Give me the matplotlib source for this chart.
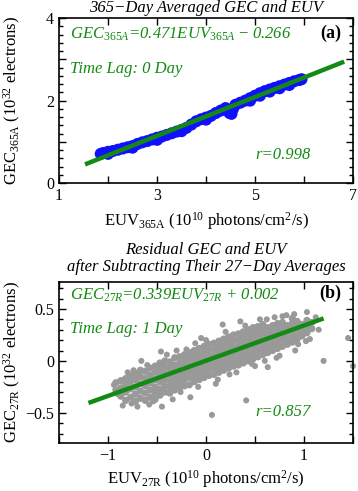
import matplotlib
matplotlib.use("Agg")
import matplotlib.pyplot as plt
from matplotlib.ticker import MultipleLocator, FuncFormatter

plt.rcParams["font.family"] = ["Liberation Serif", "DejaVu Serif"]
plt.rcParams["mathtext.fontset"] = "custom"
plt.rcParams["mathtext.rm"] = "Liberation Serif"
plt.rcParams["mathtext.it"] = "Liberation Serif:italic"
plt.rcParams["mathtext.bf"] = "Liberation Serif:bold"

# ---------------------------
# (a) 365-day averaged GEC vs EUV
# ---------------------------
euv_365a = [1.85, 1.9, 2.0, 2.1, 2.2, 2.3, 2.4, 2.5, 2.6, 2.7, 2.8, 2.9, 3.0,
            3.1, 3.2, 3.3, 3.4, 3.5, 3.6, 3.7, 3.8, 3.9, 4.0, 4.1, 4.2, 4.3,
            4.4, 4.48, 4.52, 4.55, 4.6, 4.7, 4.8, 4.9, 5.0, 5.1, 5.2, 5.3,
            5.4, 5.5, 5.6, 5.7, 5.8, 5.9, 5.95,
            2.0, 2.5, 3.0, 3.5, 4.0, 4.9, 5.1, 5.3, 5.5, 5.7]
gec_365a = [0.71, 0.73, 0.76, 0.78, 0.81, 0.84, 0.87, 0.90, 0.95, 0.99, 1.02,
            1.06, 1.10, 1.13, 1.17, 1.21, 1.25, 1.29, 1.34, 1.42, 1.50, 1.55,
            1.59, 1.63, 1.70, 1.76, 1.82, 1.70, 1.68, 1.80, 1.90, 1.95, 2.00,
            2.06, 2.12, 2.18, 2.23, 2.27, 2.31, 2.35, 2.39, 2.43, 2.47, 2.50,
            2.52,
            0.71, 0.86, 1.05, 1.26, 1.54, 2.00, 2.12, 2.22, 2.30, 2.38]
fit_a = (0.471, -0.266)
fit_a_xrange = [1.53, 6.82]

# ---------------------------
# (b) residual GEC vs EUV (27-day averages removed)
# ---------------------------
euv_27r = (
    [-0.92] * 2 + [-0.87] * 3 + [-0.82] * 4 + [-0.77] * 4 + [-0.72] * 5
    + [-0.67] * 5 + [-0.62] * 5 + [-0.57] * 5 + [-0.52] * 6 + [-0.47] * 6
    + [-0.42] * 6 + [-0.37] * 6 + [-0.32] * 6 + [-0.27] * 6 + [-0.22] * 6
    + [-0.17] * 6 + [-0.12] * 6 + [-0.07] * 6 + [-0.02] * 6 + [0.03] * 6
    + [0.08] * 6 + [0.13] * 6 + [0.18] * 6 + [0.23] * 6 + [0.28] * 6
    + [0.33] * 6 + [0.38] * 6 + [0.43] * 6 + [0.48] * 6 + [0.53] * 6
    + [0.58] * 6 + [0.63] * 5 + [0.68] * 5 + [0.73] * 5 + [0.78] * 5
    + [0.83] * 4 + [0.88] * 5 + [0.93] * 4 + [0.98] * 3 + [1.03] * 3
    + [1.08] * 2
)
gec_27r = [
    -0.28, -0.21,
    -0.34, -0.26, -0.19,
    -0.38, -0.30, -0.23, -0.17,
    -0.35, -0.27, -0.20, -0.14,
    -0.39, -0.32, -0.25, -0.18, -0.12,
    -0.36, -0.29, -0.22, -0.15, -0.09,
    -0.38, -0.31, -0.24, -0.17, -0.10,
    -0.35, -0.28, -0.21, -0.14, -0.07,
    -0.37, -0.31, -0.25, -0.18, -0.11, -0.05,
    -0.33, -0.27, -0.20, -0.14, -0.08, -0.02,
    -0.30, -0.24, -0.18, -0.12, -0.06, 0.00,
    -0.31, -0.25, -0.19, -0.13, -0.07, -0.01,
    -0.28, -0.22, -0.16, -0.10, -0.04, 0.03,
    -0.26, -0.20, -0.14, -0.08, -0.02, 0.04,
    -0.24, -0.18, -0.12, -0.06, 0.00, 0.06,
    -0.23, -0.16, -0.10, -0.04, 0.02, 0.08,
    -0.20, -0.14, -0.08, -0.02, 0.04, 0.10,
    -0.18, -0.12, -0.06, 0.00, 0.06, 0.12,
    -0.16, -0.10, -0.04, 0.02, 0.08, 0.14,
    -0.14, -0.08, -0.02, 0.04, 0.10, 0.16,
    -0.13, -0.07, -0.01, 0.05, 0.11, 0.17,
    -0.11, -0.05, 0.01, 0.07, 0.13, 0.19,
    -0.09, -0.03, 0.03, 0.09, 0.15, 0.21,
    -0.07, -0.01, 0.05, 0.11, 0.17, 0.23,
    -0.05, 0.01, 0.07, 0.13, 0.19, 0.25,
    -0.04, 0.02, 0.08, 0.14, 0.20, 0.26,
    -0.02, 0.04, 0.10, 0.16, 0.22, 0.28,
    0.00, 0.06, 0.12, 0.18, 0.24, 0.30,
    0.02, 0.08, 0.14, 0.20, 0.26, 0.32,
    0.04, 0.10, 0.16, 0.22, 0.28, 0.33,
    0.06, 0.12, 0.18, 0.24, 0.30, 0.35,
    0.08, 0.14, 0.20, 0.26, 0.32,
    0.10, 0.16, 0.22, 0.28, 0.34,
    0.12, 0.18, 0.24, 0.30, 0.36,
    0.14, 0.20, 0.26, 0.32, 0.37,
    0.16, 0.22, 0.28, 0.34,
    0.18, 0.24, 0.30, 0.36, 0.41,
    0.21, 0.27, 0.33, 0.38,
    0.24, 0.30, 0.35,
    0.27, 0.33, 0.39,
    0.31, 0.37,
]
# scattered days away from the main cloud
euv_27r_out = [-0.94, -0.85, -0.74, -0.66, -0.46, -0.34, -0.26, -0.16, -0.11,
               0.06, 0.17, 0.24, 0.28, 0.41, 0.63, 0.82, 0.94, 1.02, 1.03,
               1.20, 1.45, 1.50, -0.58, -0.70, 0.55, 0.70, 0.35, -0.05, 0.90,
               1.12, 1.15, -0.45, 0.10, 0.50, -0.90, -0.30, 0.75, 0.60,
               -0.80, -0.60, -0.40, -0.20, 0.00, 0.20, 0.40, 0.62, 0.78,
               -0.76, -0.54, -0.37, -0.08, 0.12, 0.31, 0.47, 0.72, 0.91, 1.06]
gec_27r_out = [-0.23, -0.43, -0.09, 0.00, 0.09, -0.37, -0.30, -0.35, 0.17,
               -0.52, 0.35, -0.13, -0.03, -0.38, -0.06, 0.44, 0.16, 0.19, 0.47,
               0.00, 0.22, -0.05, -0.42, -0.44, 0.40, 0.42, 0.38, 0.22, 0.45,
               0.42, 0.30, -0.44, -0.22, -0.05, -0.32, 0.10, 0.05, 0.00,
               -0.11, -0.04, 0.06, 0.11, 0.20, 0.28, 0.34, 0.40, 0.43,
               -0.41, -0.39, -0.31, -0.25, -0.18, -0.11, -0.03, 0.03, 0.10, 0.21]
fit_b = (0.339, 0.002)
fit_b_xrange = [-1.2, 1.2]

GREEN = "#138a13"


def style_axes(ax):
    ax.tick_params(which="both", direction="in", top=True, right=True,
                   labelsize=11.5, width=1.0)
    ax.tick_params(which="major", length=5)
    ax.tick_params(which="minor", length=3)
    for s in ax.spines.values():
        s.set_linewidth(1.2)


fig = plt.figure(figsize=(3.58, 4.91), dpi=100)

# panel (a)
ax1 = fig.add_axes([0.165, 0.627, 0.821, 0.336])
ax1.scatter(euv_365a, gec_365a, s=75, color="#1010ff", edgecolors="none", zorder=2)
ax1.plot(fit_a_xrange, [fit_a[0] * x + fit_a[1] for x in fit_a_xrange],
         color=GREEN, lw=3.2, solid_capstyle="butt", zorder=3)
ax1.set_xlim(1, 7)
ax1.set_ylim(0, 4)
ax1.xaxis.set_major_locator(MultipleLocator(1))
ax1.yaxis.set_major_locator(MultipleLocator(1))
ax1.yaxis.set_minor_locator(MultipleLocator(0.2))
ax1.xaxis.set_major_formatter(FuncFormatter(lambda v, p: f"{v:.0f}" if round(v) % 2 == 1 else ""))
ax1.yaxis.set_major_formatter(FuncFormatter(lambda v, p: f"{v:.0f}" if round(v) % 2 == 0 else ""))
style_axes(ax1)

ax1.text(0.037, 0.90, r"GEC$_{\mathit{365A}}$=0.471EUV$_{\mathit{365A}}$ $-$ 0.266",
         style="italic", transform=ax1.transAxes, color=GREEN, fontsize=12, va="center")
ax1.text(0.037, 0.69, "Time Lag: 0 Day", style="italic", transform=ax1.transAxes,
         color=GREEN, fontsize=12, va="center")
ax1.text(0.855, 0.17, "r=0.998", style="italic", transform=ax1.transAxes,
         color=GREEN, fontsize=12, va="center", ha="right")
ax1.text(0.96, 0.91, "(a)", fontweight="bold", transform=ax1.transAxes,
         fontsize=13, va="center", ha="right")

fig.text(0.576, 0.984, "365\u2212Day Averaged GEC and EUV", style="italic",
         fontsize=12, ha="center", va="center")
fig.text(0.576, 0.55, r"EUV$_\mathrm{365A}$ (10$^\mathrm{10}$ photons/cm$^\mathrm{2}$/s)",
         fontsize=12, ha="center", va="center")
fig.text(0.034, 0.796, r"GEC$_\mathrm{365A}$ (10$^\mathrm{32}$ electrons)",
         fontsize=12, ha="center", va="center", rotation=90)

# panel (b)
ax2 = fig.add_axes([0.165, 0.0978, 0.821, 0.328])
ax2.scatter(euv_27r, gec_27r, s=27, color="#999999", edgecolors="none", zorder=2)
ax2.scatter(euv_27r_out, gec_27r_out, s=19, color="#999999", edgecolors="none",
            zorder=2, clip_on=False)
ax2.plot(fit_b_xrange, [fit_b[0] * x + fit_b[1] for x in fit_b_xrange],
         color=GREEN, lw=3.2, solid_capstyle="butt", zorder=3)
ax2.set_xlim(-1.5, 1.5)
ax2.set_ylim(-0.79, 0.76)
ax2.xaxis.set_major_locator(MultipleLocator(0.5))
ax2.yaxis.set_major_locator(MultipleLocator(0.5))
ax2.yaxis.set_minor_locator(MultipleLocator(0.1))
ax2.xaxis.set_major_formatter(FuncFormatter(
    lambda v, p: f"{v:.0f}".replace("-", "\u2212") if abs(v - round(v)) < 1e-6 else ""))
ax2.yaxis.set_major_formatter(FuncFormatter(
    lambda v, p: ("0" if abs(v) < 1e-6 else f"{v:.1f}").replace("-", "\u2212")))
style_axes(ax2)

ax2.text(0.037, 0.92, r"GEC$_{\mathit{27R}}$=0.339EUV$_{\mathit{27R}}$ + 0.002",
         style="italic", transform=ax2.transAxes, color=GREEN, fontsize=12, va="center")
ax2.text(0.037, 0.71, "Time Lag: 1 Day", style="italic", transform=ax2.transAxes,
         color=GREEN, fontsize=12, va="center")
ax2.text(0.855, 0.19, "r=0.857", style="italic", transform=ax2.transAxes,
         color=GREEN, fontsize=12, va="center", ha="right")
ax2.text(0.96, 0.93, "(b)", fontweight="bold", transform=ax2.transAxes,
         fontsize=13, va="center", ha="right")

fig.text(0.576, 0.491, "Residual GEC and EUV", style="italic",
         fontsize=12, ha="center", va="center")
fig.text(0.576, 0.456, "after Subtracting Their 27\u2212Day Averages", style="italic",
         fontsize=12, ha="center", va="center")
fig.text(0.576, 0.024, r"EUV$_\mathrm{27R}$ (10$^\mathrm{10}$ photons/cm$^\mathrm{2}$/s)",
         fontsize=12, ha="center", va="center")
fig.text(0.034, 0.263, r"GEC$_\mathrm{27R}$ (10$^\mathrm{32}$ electrons)",
         fontsize=12, ha="center", va="center", rotation=90)

fig.savefig("out.png", dpi=100)
